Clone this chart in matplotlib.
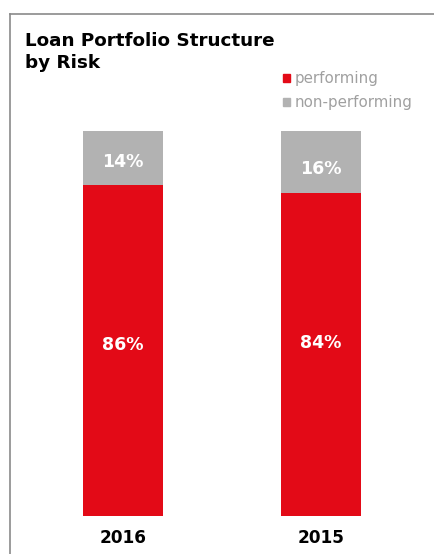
import matplotlib.pyplot as plt
from matplotlib.lines import Line2D
from matplotlib.patches import Rectangle

# Loan portfolio shares by year (%)
years = ['2016', '2015']
performing = [86, 84]
non_performing = [14, 16]

red = '#E30A17'
grey = '#B2B2B2'

W, H = 434, 554
fig = plt.figure(figsize=(W / 100, H / 100), dpi=100)

# frame lines along the top and left edge
fig.add_artist(Line2D([10 / W, 10 / W], [0, 1 - 14 / H], color='#8a8a8a', lw=1.2))
fig.add_artist(Line2D([10 / W, 1], [1 - 14 / H, 1 - 14 / H], color='#8a8a8a', lw=1.2))

fig.text(25 / W, 1 - 52 / H, 'Loan Portfolio Structure\nby Risk', fontsize=13.2,
         fontweight='bold', va='center', ha='left', linespacing=1.3)

# legend
for i, (lab, col) in enumerate([('performing', red), ('non-performing', grey)]):
    y = 78 + 24 * i
    fig.add_artist(Rectangle((283 / W, 1 - (y + 4) / H), 7 / W, 8 / H,
                             color=col, transform=fig.transFigure))
    fig.text(295 / W, 1 - y / H, lab, fontsize=10.8, color='#a0a0a0',
             va='center', ha='left')

ax = fig.add_axes([24 / W, (H - 516) / H, 396 / W, 385 / H])
x = range(len(years))
ax.bar(x, performing, width=0.404, color=red)
ax.bar(x, non_performing, width=0.404, bottom=performing, color=grey)

# label nudges (data units) so they sit where the originals were placed
perf_shift = [1.3, 2.9]
npl_shift = [-1.0, -1.9]
for i in x:
    ax.text(i, performing[i] / 2 + perf_shift[i], f'{performing[i]}%', color='white',
            fontsize=12.5, fontweight='bold', ha='center', va='center')
    ax.text(i, performing[i] + non_performing[i] / 2 + npl_shift[i],
            f'{non_performing[i]}%', color='white', fontsize=12.5,
            fontweight='bold', ha='center', va='center')
    ax.text(i, -5.6, years[i], fontsize=12.2, fontweight='bold',
            ha='center', va='center')

ax.set_xlim(-0.5, 1.5)
ax.set_ylim(0, 100)
ax.axis('off')

fig.savefig('out.png', dpi=100)
